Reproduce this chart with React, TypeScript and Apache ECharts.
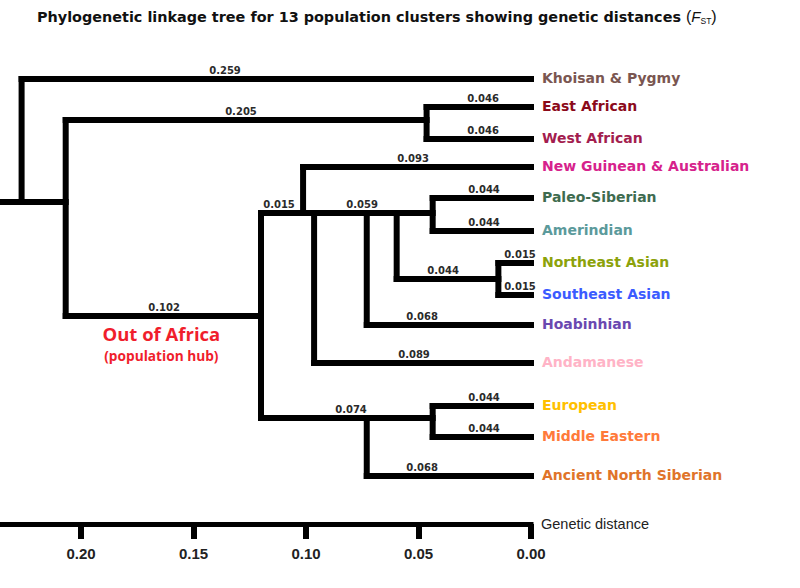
import { useEffect, useRef } from "react";
import * as echarts from "echarts";

// ---------- data ----------
const leafNames = [
  "Khoisan & Pygmy",
  "East African",
  "West African",
  "New Guinean & Australian",
  "Paleo-Siberian",
  "Amerindian",
  "Northeast Asian",
  "Southeast Asian",
  "Hoabinhian",
  "Andamanese",
  "European",
  "Middle Eastern",
  "Ancient North Siberian",
];
const leafColors = [
  "#7a5651", "#8b0a1a", "#a31d4f", "#d6228c", "#3e6b4f", "#5b9a9b",
  "#8ca20a", "#3b5bff", "#6a48b0", "#ffb3c6", "#ffc000", "#ff7a3a", "#e0742a",
];
// vertical row position of each leaf (hidden y scale)
const leafRows = [79, 107, 139, 167, 198, 231, 263, 295, 325, 363, 406, 437, 476];

// internal nodes: merge height (genetic distance) and row position
const nodeIds = ["R", "A", "EW", "OOA", "N1", "N2", "N3", "N4", "PA", "NESE", "M1", "EM"];
const nodeHeights = [0.2264, 0.2068, 0.0464, 0.12, 0.1013, 0.0964, 0.073, 0.0597, 0.0437, 0.0145, 0.073, 0.0437];
const nodeRows = [202, 202, 120, 316, 213, 213, 213, 213, 213, 279, 418, 418];

// edges (child -> parent), branch label and where the label sits (in distance units)
const edgeChild = ["L0", "A", "EW", "L1", "L2", "OOA", "N1", "M1", "L3", "N2", "L9", "N3", "L8", "N4", "NESE", "PA", "L6", "L7", "L4", "L5", "L12", "EM", "L10", "L11"];
const edgeParent = ["R", "R", "A", "EW", "EW", "A", "OOA", "OOA", "N1", "N1", "N2", "N2", "N3", "N3", "N4", "N4", "NESE", "NESE", "PA", "PA", "M1", "M1", "EM", "EM"];
const edgeLabels = ["0.259", "", "0.205", "0.046", "0.046", "0.102", "0.015", "0.074", "0.093", "", "0.089", "", "0.068", "", "0.044", "0.059", "0.015", "0.015", "0.044", "0.044", "0.068", "", "0.044", "0.044"];
const edgeLabelAt = [0.136, 0, 0.1289, 0.0213, 0.0213, 0.1631, 0.112, 0.08, 0.0524, 0, 0.052, 0, 0.0484, 0, 0.0391, 0.0751, 0.0049, 0.0049, 0.0209, 0.0209, 0.0484, 0, 0.0209, 0.0209];

const axisMax = 0.236;
const tickValues = [0.2, 0.15, 0.1, 0.05, 0];

const titleText = "Phylogenetic linkage tree for 13 population clusters showing genetic distances ";
const hubTitle = "Out of Africa";
const hubSubtitle = "(population hub)";
const hubNode = "OOA";

// ---------- helpers ----------
function heightOf(id: string): number {
  if (id.startsWith("L")) return 0;
  return nodeHeights[nodeIds.indexOf(id)];
}
function rowOf(id: string): number {
  if (id.startsWith("L")) return leafRows[parseInt(id.slice(1), 10)];
  return nodeRows[nodeIds.indexOf(id)];
}

export default function App() {
  const ref = useRef<HTMLDivElement>(null);

  useEffect(() => {
    if (!ref.current) return;
    const chart = echarts.init(ref.current, null, { renderer: "svg" });

    const LINE = { stroke: "#000", lineWidth: 6, lineCap: "square" as const };

    const renderItem = (_params: any, api: any) => {
      const children: any[] = [];
      const c = (x: number, y: number) => api.coord([x, y]);

      // root stub
      {
        const p1 = c(axisMax, rowOf("R"));
        const p2 = c(heightOf("R"), rowOf("R"));
        children.push({ type: "line", shape: { x1: p1[0], y1: p1[1], x2: p2[0], y2: p2[1] }, style: LINE });
      }

      // verticals for each internal node
      nodeIds.forEach((id) => {
        const rows = [rowOf(id)];
        edgeParent.forEach((p, i) => {
          if (p === id) rows.push(rowOf(edgeChild[i]));
        });
        const lo = Math.min(...rows);
        const hi = Math.max(...rows);
        const a = c(heightOf(id), lo);
        const b = c(heightOf(id), hi);
        children.push({ type: "line", shape: { x1: a[0], y1: a[1], x2: b[0], y2: b[1] }, style: LINE });
      });

      // horizontals for each edge + branch labels
      edgeChild.forEach((ch, i) => {
        const par = edgeParent[i];
        const y = rowOf(ch);
        const a = c(heightOf(par), y);
        const b = c(heightOf(ch), y);
        children.push({ type: "line", shape: { x1: a[0], y1: a[1], x2: b[0], y2: b[1] }, style: LINE });
        if (edgeLabels[i]) {
          const lp = c(edgeLabelAt[i], y);
          children.push({
            type: "text",
            x: lp[0],
            y: lp[1] - 9,
            style: {
              text: edgeLabels[i],
              fill: "#2b2b2b",
              fontFamily: "DejaVu Sans",
              fontWeight: "bold",
              fontSize: 10,
              align: "center",
              verticalAlign: "middle",
            },
          });
        }
      });

      // leaf labels
      leafNames.forEach((name, i) => {
        const p = c(0, leafRows[i]);
        children.push({
          type: "text",
          x: p[0] + 11,
          y: p[1] - 1,
          style: {
            text: name,
            fill: leafColors[i],
            fontFamily: "DejaVu Sans",
            fontWeight: "bold",
            fontSize: 14,
            align: "left",
            verticalAlign: "middle",
          },
        });
      });

      // hub annotation under the Out of Africa branch
      {
        const hi = edgeChild.indexOf(hubNode);
        const mid = (heightOf(edgeParent[hi]) + heightOf(hubNode)) / 2;
        const p = c(mid, rowOf(hubNode));
        children.push({
          type: "text",
          x: p[0] - 2,
          y: p[1] + 17,
          style: {
            text: hubTitle,
            fill: "#f01e2c",
            fontFamily: "Open Sans",
            fontWeight: "bold",
            fontSize: 18.5,
            align: "center",
            verticalAlign: "middle",
          },
        });
        children.push({
          type: "text",
          x: p[0] - 2,
          y: p[1] + 39,
          style: {
            text: hubSubtitle,
            fill: "#f01e2c",
            fontFamily: "Open Sans",
            fontWeight: "bold",
            fontSize: 13.7,
            align: "center",
            verticalAlign: "middle",
          },
        });
      }

      return { type: "group", children };
    };

    chart.setOption({
      animation: false,
      backgroundColor: "#ffffff",
      title: {
        text: titleText + "{p|(}{f|F}{s|ST}{p|)}",
        left: 37,
        top: 8,
        padding: 0,
        textStyle: {
          fontFamily: "DejaVu Sans",
          fontWeight: "bold",
          fontSize: 14.4,
          color: "#111",
          rich: {
            p: { fontFamily: "Liberation Sans", fontWeight: "normal", fontSize: 16, color: "#111" },
            f: { fontFamily: "Liberation Sans", fontStyle: "italic", fontWeight: "normal", fontSize: 15, color: "#111" },
            s: { fontFamily: "Liberation Sans", fontWeight: "normal", fontSize: 8.5, color: "#111", padding: [8, 0, 0, 0] },
          },
        },
      },
      grid: { left: 0, right: 269, top: 0, bottom: 64, containLabel: false, outerBoundsMode: "none" },
      xAxis: {
        type: "value",
        inverse: true,
        min: 0,
        max: axisMax,
        position: "bottom",
        splitLine: { show: false },
        name: "Genetic distance",
        nameLocation: "start",
        nameGap: 10,
        nameTextStyle: { fontFamily: "Liberation Sans", fontSize: 14.5, color: "#222", verticalAlign: "middle" },
        axisLine: { show: true, onZero: false, lineStyle: { color: "#000", width: 5, cap: "square" } },
        axisTick: { show: true, customValues: tickValues, length: 15, lineStyle: { color: "#000", width: 6 } },
        axisLabel: {
          customValues: tickValues,
          margin: 22,
          formatter: (v: number) => v.toFixed(2),
          fontFamily: "Liberation Sans",
          fontWeight: "bold",
          fontSize: 15,
          color: "#222",
        },
      },
      yAxis: { type: "value", inverse: true, min: 0, max: 524, show: false },
      series: [
        {
          type: "custom",
          clip: false,
          silent: true,
          renderItem,
          data: [[0, 0]],
        },
      ],
    });

    return () => chart.dispose();
  }, []);

  return (
    <div
      ref={ref}
      style={{ position: "fixed", left: 0, top: 0, width: 800, height: 588 }}
    />
  );
}
